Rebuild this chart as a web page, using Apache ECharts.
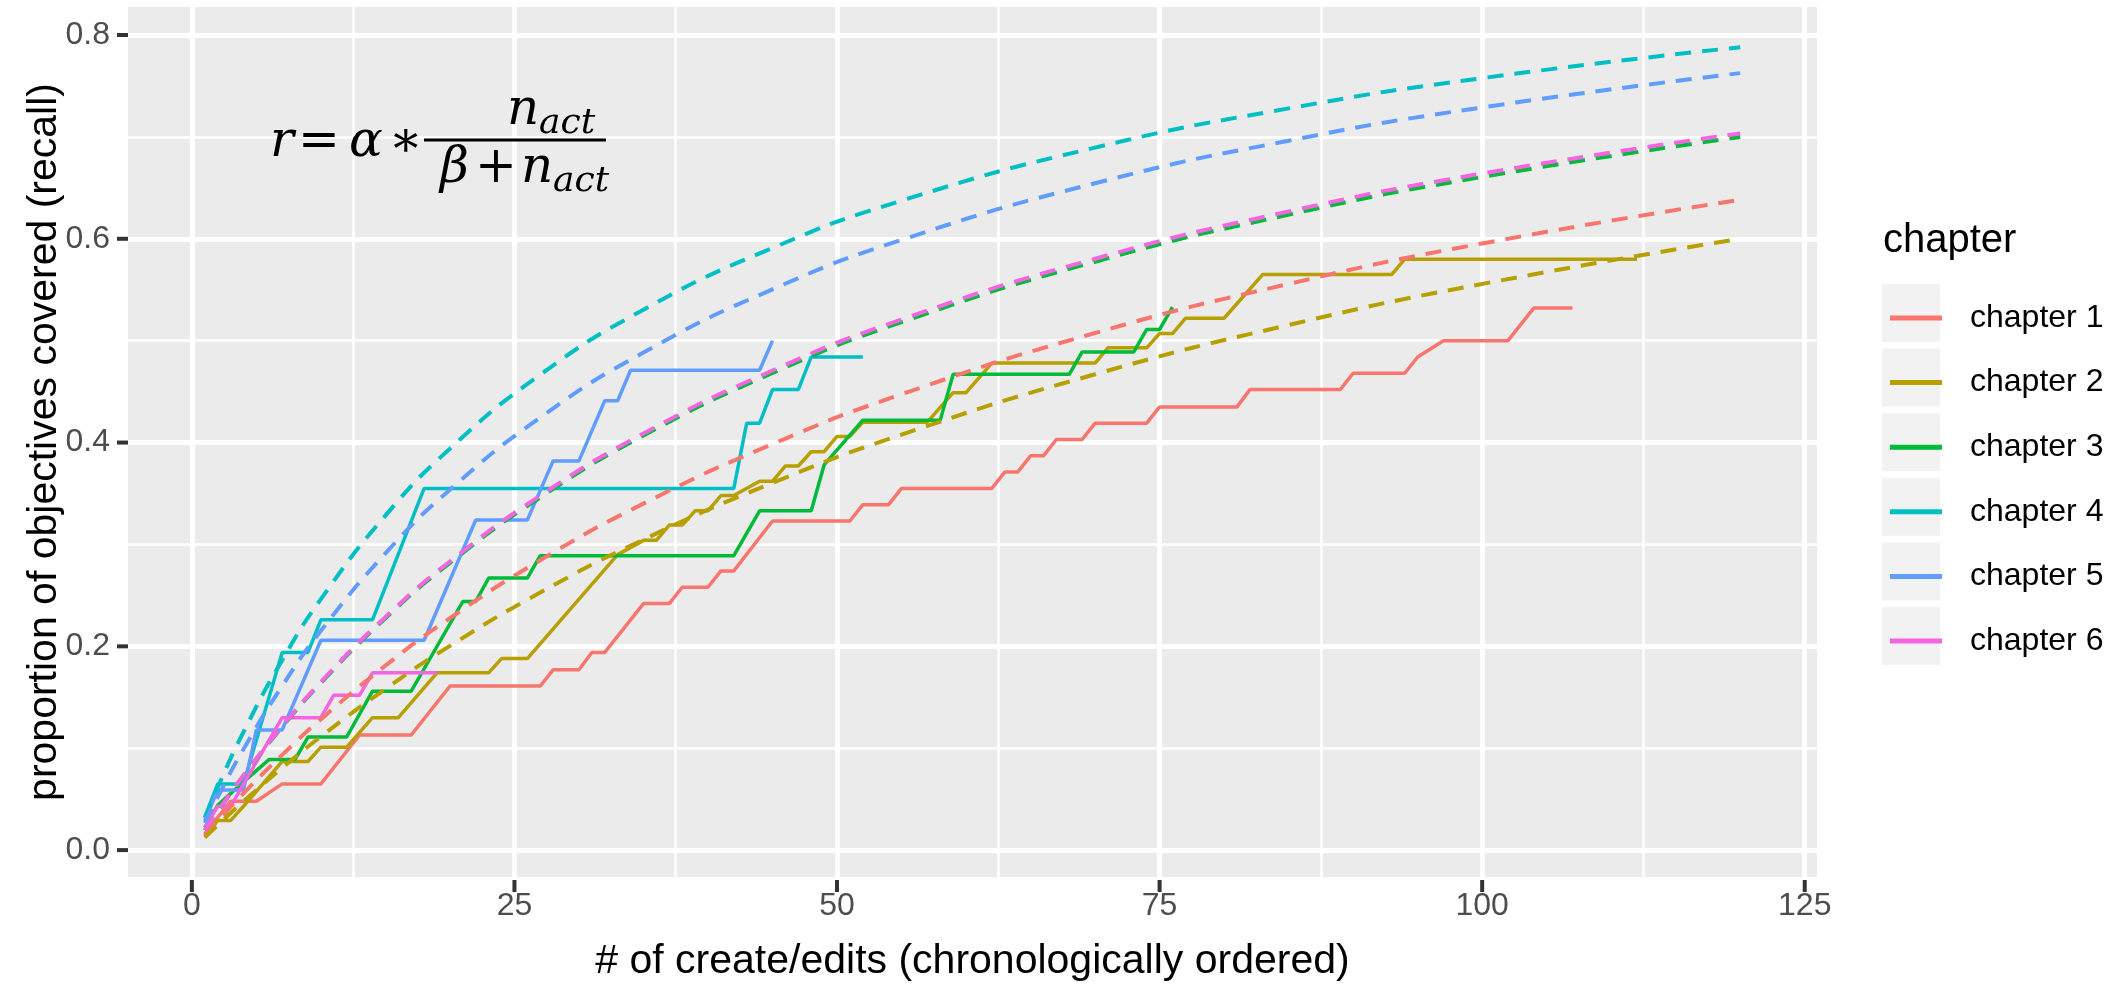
<!DOCTYPE html>
<html>
<head>
<meta charset="utf-8">
<title>recall vs create/edits</title>
<script src="https://cdn.jsdelivr.net/npm/echarts@6/dist/echarts.min.js"></script>
<style>
  html, body { margin: 0; padding: 0; background: #fff; }
  #main { width: 2126px; height: 987px; }
</style>
</head>
<body>
<div id="main"></div>
<script>
// chapters and ggplot hue colours
const chapters = ['chapter 1', 'chapter 2', 'chapter 3', 'chapter 4', 'chapter 5', 'chapter 6'];
const colors = ['#F8766D', '#B79F00', '#00BA38', '#00BFC4', '#619CFF', '#F564E3'];

// observed recall, [n edits, recall] at the corners of each step line
const ch1Obs = [[1,0.016],[3,0.048],[5,0.048],[7,0.065],[10,0.065],[13,0.113],[17,0.113],[20,0.161],[27,0.161],[28,0.177],[30,0.177],[31,0.194],[32,0.194],[35,0.242],[37,0.242],[38,0.258],[40,0.258],[41,0.274],[42,0.274],[45,0.323],[51,0.323],[52,0.339],[54,0.339],[55,0.355],[62,0.355],[63,0.371],[64,0.371],[65,0.387],[66,0.387],[67,0.403],[69,0.403],[70,0.419],[74,0.419],[75,0.435],[81,0.435],[82,0.452],[89,0.452],[90,0.468],[94,0.468],[95,0.484],[97,0.5],[102,0.5],[104,0.532],[107,0.532]];
const ch2Obs = [[1,0.014],[2,0.029],[3,0.029],[4,0.043],[7,0.087],[9,0.087],[10,0.101],[12,0.101],[14,0.130],[16,0.130],[19,0.174],[23,0.174],[24,0.188],[26,0.188],[33,0.290],[35,0.304],[36,0.304],[37,0.319],[38,0.319],[39,0.333],[40,0.333],[41,0.348],[42,0.348],[44,0.362],[45,0.362],[46,0.377],[47,0.377],[48,0.391],[49,0.391],[50,0.406],[51,0.406],[52,0.420],[57,0.420],[59,0.449],[60,0.449],[62,0.478],[70,0.478],[71,0.493],[74,0.493],[75,0.507],[76,0.507],[77,0.522],[80,0.522],[83,0.565],[93,0.565],[94,0.580],[112,0.580]];
const ch3Obs = [[1,0.022],[2,0.044],[4,0.067],[6,0.089],[8,0.089],[9,0.111],[12,0.111],[14,0.156],[17,0.156],[21,0.244],[22,0.244],[23,0.267],[26,0.267],[27,0.289],[42,0.289],[44,0.333],[48,0.333],[49,0.378],[52,0.422],[58,0.422],[59,0.467],[68,0.467],[69,0.489],[73,0.489],[74,0.511],[75,0.511],[76,0.533]];
const ch4Obs = [[1,0.032],[2,0.065],[4,0.065],[7,0.194],[9,0.194],[10,0.226],[14,0.226],[18,0.355],[42,0.355],[43,0.419],[44,0.419],[45,0.452],[47,0.452],[48,0.484],[52,0.484]];
const ch5Obs = [[1,0.029],[2,0.059],[4,0.059],[5,0.118],[7,0.118],[10,0.206],[18,0.206],[22,0.324],[26,0.324],[28,0.382],[30,0.382],[32,0.441],[33,0.441],[34,0.471],[44,0.471],[45,0.5]];
const ch6Obs = [[1,0.022],[2,0.043],[3,0.043],[7,0.130],[10,0.130],[11,0.152],[13,0.152],[14,0.174],[19,0.174]];

// fitted curves (dashed), read at these n
const nFit = [1, 2, 4, 7, 10, 15, 20, 27, 35, 45, 55, 70, 85, 100, 120];
const ch1Fit = [0.0145, 0.0286, 0.0557, 0.0935, 0.1284, 0.1810, 0.2276, 0.2845, 0.3401, 0.3985, 0.4474, 0.5075, 0.5557, 0.5954, 0.6383];
const ch2Fit = [0.0124, 0.0245, 0.0478, 0.0807, 0.1114, 0.1582, 0.2004, 0.2528, 0.3048, 0.3604, 0.4078, 0.4670, 0.5154, 0.5557, 0.6000];
const ch3Fit = [0.0193, 0.0378, 0.0729, 0.1209, 0.1642, 0.2276, 0.2819, 0.3462, 0.4069, 0.4683, 0.5182, 0.5775, 0.6237, 0.6607, 0.6999];
const ch4Fit = [0.0318, 0.0616, 0.1159, 0.1864, 0.2463, 0.3283, 0.3940, 0.4666, 0.5304, 0.5910, 0.6374, 0.6895, 0.7280, 0.7577, 0.7880];
const ch5Fit = [0.0267, 0.0521, 0.0990, 0.1611, 0.2152, 0.2912, 0.3537, 0.4245, 0.4883, 0.5504, 0.5989, 0.6545, 0.6963, 0.7289, 0.7626];
const ch6Fit = [0.0194, 0.0380, 0.0733, 0.1215, 0.1650, 0.2287, 0.2833, 0.3479, 0.4089, 0.4707, 0.5208, 0.5804, 0.6268, 0.6640, 0.7034];

// axis ticks
const xTicks = [0, 25, 50, 75, 100, 125];
const xMinor = [12.5, 37.5, 62.5, 87.5, 112.5];
const yTicks = [0, 0.2, 0.4, 0.6, 0.8];
const yMinor = [0.1, 0.3, 0.5, 0.7];

const observed = [ch1Obs, ch2Obs, ch3Obs, ch4Obs, ch5Obs, ch6Obs];
const fitted = [ch1Fit, ch2Fit, ch3Fit, ch4Fit, ch5Fit, ch6Fit];

const FONT = 'Liberation Sans, Arial, sans-serif';
const MATH = 'DejaVu Serif, serif';
const GRID = { left: 128, right: 309, top: 7, bottom: 107 };

function gridLines(width, xs, ys) {
    const data = [];
    xs.forEach(function (v) { data.push({ xAxis: v }); });
    ys.forEach(function (v) { data.push({ yAxis: v }); });
    return {
        type: 'line',
        data: [],
        z: 1,
        silent: true,
        markLine: {
            silent: true,
            symbol: ['none', 'none'],
            label: { show: false },
            animation: false,
            z: 1,
            lineStyle: { color: '#FFFFFF', width: width, type: 'solid' },
            data: data
        }
    };
}

const series = [gridLines(2.5, xMinor, yMinor), gridLines(5, xTicks, yTicks)];

observed.forEach(function (pts, i) {
    series.push({
        name: chapters[i],
        type: 'line',
        data: pts,
        showSymbol: false,
        z: 3,
        lineStyle: { color: colors[i], width: 3.5 },
        itemStyle: { color: colors[i] }
    });
});
fitted.forEach(function (vals, i) {
    series.push({
        name: chapters[i],
        type: 'line',
        data: nFit.map(function (n, k) { return [n, vals[k]]; }),
        showSymbol: false,
        smooth: 0.5,
        z: 4,
        lineStyle: { color: colors[i], width: 4, type: [16, 11] },
        itemStyle: { color: colors[i] }
    });
});

// legend key backgrounds
const keyBoxes = chapters.map(function (c, i) {
    return {
        type: 'rect',
        shape: { x: 1882, y: 313 + i * 64.6 - 29, width: 58, height: 58 },
        style: { fill: '#F2F2F2' },
        z: 0
    };
});

function mathText(txt, x, y, size, italic) {
    return {
        type: 'text', x: x, y: y, z: 10,
        style: {
            text: txt, fill: '#000', fontFamily: MATH, fontSize: size,
            fontStyle: italic ? 'italic' : 'normal', verticalAlign: 'middle', align: 'left'
        }
    };
}

// r = alpha * n_act / (beta + n_act)
const formula = [
    mathText('r', 270, 143, 50, true),
    mathText('=', 298, 143, 50, false),
    mathText('α', 349, 143, 50, true),
    mathText('∗', 389, 143, 50, false),
    { type: 'line', z: 10, shape: { x1: 424, y1: 140, x2: 606, y2: 140 }, style: { stroke: '#000', lineWidth: 3 } },
    mathText('n', 507, 111, 50, true),
    mathText('act', 539, 124, 36, true),
    mathText('β', 440, 169, 50, true),
    mathText('+', 475, 169, 50, false),
    mathText('n', 521, 169, 50, true),
    mathText('act', 553, 182, 36, true)
];

const chart = echarts.init(document.getElementById('main'));
chart.setOption({
    animation: false,
    backgroundColor: '#FFFFFF',
    grid: {
        left: GRID.left, right: GRID.right, top: GRID.top, bottom: GRID.bottom,
        show: true, backgroundColor: '#EBEBEB', borderWidth: 0
    },
    title: {
        text: 'chapter', left: 1878, top: 216,
        textStyle: { fontFamily: FONT, fontSize: 40, fontWeight: 'normal', color: '#000' }
    },
    legend: {
        data: chapters,
        orient: 'vertical',
        left: 1885, top: 293,
        itemWidth: 52, itemHeight: 5, itemGap: 24.6,
        icon: 'rect',
        textStyle: { fontFamily: FONT, fontSize: 32, color: '#000', lineHeight: 40, padding: [0, 0, 0, 23] }
    },
    xAxis: {
        type: 'value', min: -4.95, max: 125.95,
        name: '# of create/edits (chronologically ordered)',
        nameLocation: 'middle', nameGap: 64, nameMoveOverlap: false,
        nameTextStyle: { fontFamily: FONT, fontSize: 41, color: '#000' },
        axisLine: { show: false },
        splitLine: { show: false },
        axisTick: { show: false },
        axisLabel: { customValues: xTicks, margin: 13, fontFamily: FONT, fontSize: 32, color: '#4D4D4D' }
    },
    yAxis: {
        type: 'value', min: -0.0264, max: 0.8275,
        name: 'proportion of objectives covered (recall)',
        nameLocation: 'middle', nameGap: 63, nameMoveOverlap: false,
        nameTextStyle: { fontFamily: FONT, fontSize: 41, color: '#000' },
        axisLine: { show: false },
        splitLine: { show: false },
        axisTick: { show: false },
        axisLabel: {
            customValues: yTicks, margin: 18, fontFamily: FONT, fontSize: 32, color: '#4D4D4D',
            formatter: function (v) { return v.toFixed(1); }
        }
    },
    graphic: keyBoxes.concat(formula),
    series: series
});

// tick marks, placed through the axis scales
const ticks = [];
const gridBottom = 987 - GRID.bottom;
xTicks.forEach(function (v) {
    const px = chart.convertToPixel({ xAxisIndex: 0 }, v);
    ticks.push({ type: 'rect', z: 5, shape: { x: px - 2, y: gridBottom, width: 4, height: 12 }, style: { fill: '#333333' } });
});
yTicks.forEach(function (v) {
    const py = chart.convertToPixel({ yAxisIndex: 0 }, v);
    ticks.push({ type: 'rect', z: 5, shape: { x: GRID.left - 11, y: py - 2, width: 11, height: 4 }, style: { fill: '#333333' } });
});
chart.setOption({ graphic: keyBoxes.concat(formula, ticks) });
</script>
</body>
</html>
